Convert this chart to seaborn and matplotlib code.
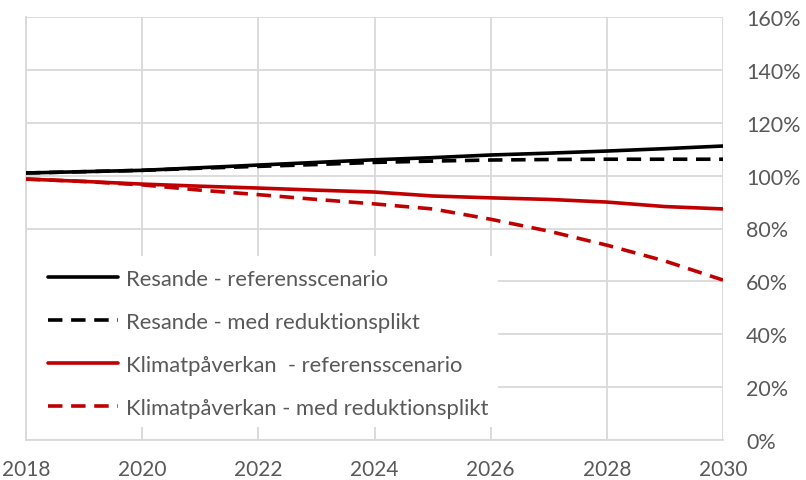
import matplotlib
matplotlib.use("Agg")
import matplotlib.pyplot as plt
import seaborn as sns
import pandas as pd
from matplotlib.ticker import FuncFormatter
from matplotlib.patches import Rectangle

years = list(range(2018, 2031))
resande_ref = [101, 101.5, 102, 103, 104, 105, 106, 106.8, 107.8, 108.5, 109.3, 110.2, 111.2]
resande_red = [101, 101.5, 102, 102.8, 103.5, 104.2, 105, 105.5, 105.9, 106.1, 106.2, 106.2, 106.2]
klimat_ref = [98.7, 97.8, 96.8, 96.0, 95.3, 94.5, 93.8, 92.3, 91.6, 91.0, 90.0, 88.3, 87.4]
klimat_red = [98.7, 97.8, 96.5, 94.5, 92.8, 91.0, 89.3, 87.4, 83.5, 79.0, 73.7, 67.7, 60.5]

labels = ["Resande - referensscenario",
          "Resande - med reduktionsplikt",
          "Klimatpåverkan  - referensscenario",
          "Klimatpåverkan - med reduktionsplikt"]
series = [resande_ref, resande_red, klimat_ref, klimat_red]

rows = []
for lab, vals in zip(labels, series):
    for y, v in zip(years, vals):
        rows.append({"År": y, "Värde": v, "Serie": lab})
df = pd.DataFrame(rows)

sns.set_style("white")
plt.rcParams["font.family"] = ["Lato", "DejaVu Sans"]

fig = plt.figure(figsize=(8.06, 4.81), dpi=100)
ax = fig.add_axes([26/806, 1-441/481, (723-26)/806, (441-18)/481])

palette = {labels[0]: "black", labels[1]: "black", labels[2]: "#C00000", labels[3]: "#C00000"}
dashes = {labels[0]: "", labels[1]: (4.0, 2.4), labels[2]: "", labels[3]: (4.0, 2.4)}
sns.lineplot(data=df, x="År", y="Värde", hue="Serie", style="Serie",
             palette=palette, dashes=dashes, hue_order=labels, style_order=labels,
             linewidth=2.6, ax=ax, zorder=3)

ax.set_xlim(2018, 2030)
ax.set_ylim(0, 160)
ax.set_xticks(range(2018, 2031, 2))
ax.set_yticks(range(0, 161, 20))
ax.yaxis.set_major_formatter(FuncFormatter(lambda v, p: f"{int(v)}%"))
ax.yaxis.tick_right()
ax.set_xlabel("")
ax.set_ylabel("")
ax.grid(True, color="#D9D9D9", linewidth=1.3, zorder=0)
ax.set_axisbelow(True)
for s in ["top", "right"]:
    ax.spines[s].set_visible(False)
for s in ["left", "bottom"]:
    ax.spines[s].set_color("#D9D9D9")
    ax.spines[s].set_linewidth(1.3)
ax.tick_params(axis="both", length=0, labelsize=15.5, labelcolor="#595959")
ax.tick_params(axis="x", labelsize=15)
ax.tick_params(axis="y", pad=16.5)
ax.tick_params(axis="x", pad=14)

# white legend background box
ax.add_patch(Rectangle((0.0, (441-428)/423), (498-26)/697, (428-257)/423,
                       transform=ax.transAxes, facecolor="white", edgecolor="none",
                       zorder=1.5, clip_on=False))

leg = ax.legend(loc="upper left", bbox_to_anchor=(48/806, 1-270/481),
                bbox_transform=fig.transFigure, borderaxespad=0, borderpad=0,
                frameon=False, fontsize=15.8, handlelength=3.2, handletextpad=0.36,
                labelspacing=1.05)
for t in leg.get_texts():
    t.set_color("#595959")

fig.savefig("out.png", dpi=100)
